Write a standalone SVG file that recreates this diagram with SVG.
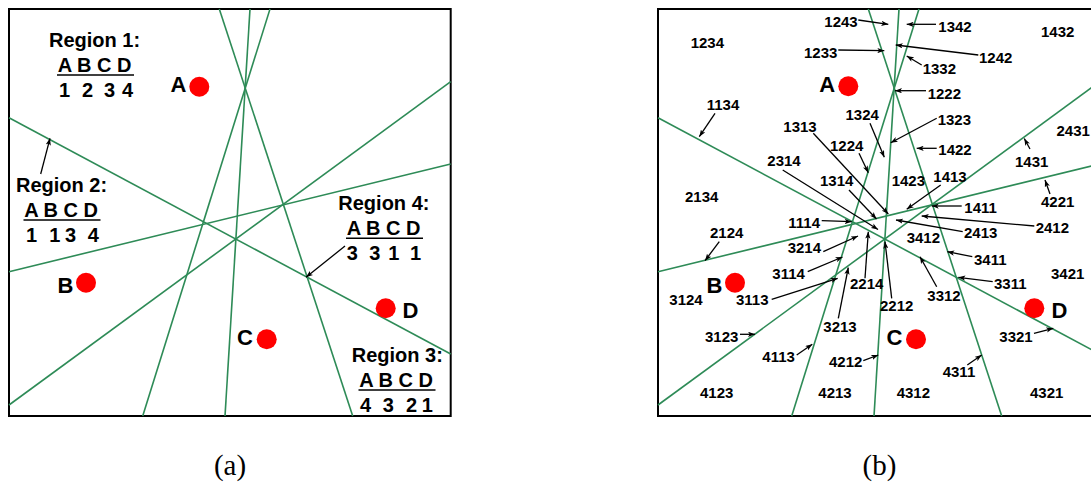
<svg xmlns="http://www.w3.org/2000/svg" xmlns:xlink="http://www.w3.org/1999/xlink" width="1091" height="484" viewBox="0 0 1091 484">
  <style>
    .frame { fill: none; stroke: #000; stroke-width: 2; }
    .bis { stroke: #2e8b57; stroke-width: 1.6; fill: none; }
    .ptr { stroke: #000; stroke-width: 1.3; fill: none; marker-end: url(#ah); }
    .ul { stroke: #000; stroke-width: 1.6; }
    .site { fill: #ff0000; }
    .big { font-family: "Liberation Sans", Arial, sans-serif; font-weight: bold; font-size: 22px; fill: #000; }
    .reg { font-family: "Liberation Sans", Arial, sans-serif; font-weight: bold; font-size: 20px; fill: #000; }
    .lab { font-family: "Liberation Sans", Arial, sans-serif; font-weight: bold; font-size: 15px; fill: #000; }
    .cap { font-family: "Liberation Serif", "Times New Roman", serif; font-size: 29px; fill: #000; }
  </style>
  <defs>
    <marker id="ah" viewBox="0 0 8 6" refX="8" refY="3" markerWidth="7" markerHeight="5.5" markerUnits="userSpaceOnUse" orient="auto">
      <path d="M0,0 L8,3 L0,6 L2,3 z" fill="#000"/>
    </marker>
    <!-- the six perpendicular bisectors of the four sites -->
    <g id="bisectors">
      <line class="bis" x1="219.3" y1="9" x2="352.7" y2="416"/>
      <line class="bis" x1="270" y1="9" x2="142.7" y2="416"/>
      <line class="bis" x1="250" y1="9" x2="225" y2="416"/>
      <line class="bis" x1="9" y1="117.7" x2="450.7" y2="354"/>
      <line class="bis" x1="9" y1="271.7" x2="450.7" y2="164"/>
      <line class="bis" x1="9" y1="405" x2="450.7" y2="81.7"/>
    </g>
  </defs>

  <rect width="1091" height="484" fill="#fff"/>

  <!-- panel (a) -->
  <g id="panel-a">
    <rect class="frame" x="9" y="9" width="441.7" height="407"/>
    <g id="connectors-a">
      <use xlink:href="#bisectors" href="#bisectors"/>
      <line class="ptr" x1="40.7" y1="174" x2="50" y2="138.3"/>
      <line class="ptr" x1="345" y1="246" x2="306" y2="277.3"/>
    </g>
    <g id="site-a-A">
      <circle class="site" cx="199.3" cy="86.7" r="10"/>
      <text class="big" x="170.5" y="92">A</text>
    </g>
    <g id="site-a-B">
      <circle class="site" cx="86" cy="282.7" r="10"/>
      <text class="big" x="57.5" y="293">B</text>
    </g>
    <g id="site-a-C">
      <circle class="site" cx="266.7" cy="339.3" r="10"/>
      <text class="big" x="237" y="345">C</text>
    </g>
    <g id="site-a-D">
      <circle class="site" cx="385.7" cy="308.3" r="10"/>
      <text class="big" x="402.5" y="318.3">D</text>
    </g>
    <g id="region-1">
      <text class="reg" x="49" y="46.7">Region 1:</text>
      <text class="reg" x="57.7" y="71.7">A B C D</text>
      <line class="ul" x1="57" y1="75" x2="134" y2="75"/>
      <text class="reg" x="59 70 82 95 104 117 122" y="96.7">1 2 3 4</text>
    </g>
    <g id="region-2">
      <text class="reg" x="16" y="191.7">Region 2:</text>
      <text class="reg" x="24.3" y="216.7">A B C D</text>
      <line class="ul" x1="23.5" y1="220" x2="100.5" y2="220"/>
      <text class="reg" x="26 40 49.3 60 65 80 87.7" y="241.7">1 1 3 4</text>
    </g>
    <g id="region-4">
      <text class="reg" x="338.3" y="210">Region 4:</text>
      <text class="reg" x="346.7" y="235">A B C D</text>
      <line class="ul" x1="346" y1="238.3" x2="423" y2="238.3"/>
      <text class="reg" x="346.7 360 369.3 382 388.3 400 410" y="260">3 3 1 1</text>
    </g>
    <g id="region-3">
      <text class="reg" x="351.7" y="361.7">Region 3:</text>
      <text class="reg" x="359.3" y="386.7">A B C D</text>
      <line class="ul" x1="358.5" y1="390" x2="435.5" y2="390"/>
      <text class="reg" x="360 374 382.7 396 406 418 421.7" y="411.7">4 3 2 1</text>
    </g>
    <text class="cap" x="230" y="475" text-anchor="middle">(a)</text>
  </g>

  <!-- panel (b) -->
  <g id="panel-b">
    <rect class="frame" x="658" y="9" width="441.7" height="407"/>
    <g id="connectors-b">
      <use xlink:href="#bisectors" href="#bisectors" transform="translate(649,0)"/>
      <line class="ptr" x1="858.3" y1="20" x2="888.3" y2="24.3"/>
      <line class="ptr" x1="936" y1="24.3" x2="906.7" y2="24.3"/>
      <line class="ptr" x1="838.3" y1="50" x2="884.3" y2="50.7"/>
      <line class="ptr" x1="978.3" y1="55" x2="895.7" y2="45"/>
      <line class="ptr" x1="921.7" y1="65" x2="906.7" y2="56"/>
      <line class="ptr" x1="926" y1="90.7" x2="895" y2="90.7"/>
      <line class="ptr" x1="715" y1="113.3" x2="699.3" y2="136.7"/>
      <line class="ptr" x1="870" y1="123.3" x2="884.3" y2="157.3"/>
      <line class="ptr" x1="936.7" y1="118.3" x2="890.7" y2="142.7"/>
      <line class="ptr" x1="813.3" y1="133.3" x2="888.3" y2="214"/>
      <line class="ptr" x1="859" y1="153.3" x2="868.3" y2="172.7"/>
      <line class="ptr" x1="936.7" y1="148.3" x2="916.7" y2="148.3"/>
      <line class="ptr" x1="1030" y1="149" x2="1024.3" y2="138.5"/>
      <line class="ptr" x1="782.7" y1="170" x2="878" y2="229.5"/>
      <line class="ptr" x1="940.7" y1="185" x2="906.7" y2="209.3"/>
      <line class="ptr" x1="849" y1="190" x2="876.5" y2="219"/>
      <line class="ptr" x1="1050" y1="194" x2="1045" y2="180"/>
      <line class="ptr" x1="961.7" y1="206" x2="931.7" y2="206"/>
      <line class="ptr" x1="821.7" y1="220.7" x2="851.7" y2="221.7"/>
      <line class="ptr" x1="1034.3" y1="226" x2="921.7" y2="216"/>
      <line class="ptr" x1="962.7" y1="231.7" x2="896" y2="220"/>
      <line class="ptr" x1="719.3" y1="241.7" x2="705" y2="260.7"/>
      <line class="ptr" x1="823.3" y1="251.7" x2="858" y2="236"/>
      <line class="ptr" x1="972.3" y1="256.7" x2="947.3" y2="251.7"/>
      <line class="ptr" x1="807.7" y1="271.7" x2="842.5" y2="257"/>
      <line class="ptr" x1="865" y1="278.3" x2="868.3" y2="231.7"/>
      <line class="ptr" x1="992.7" y1="281.7" x2="958.3" y2="277.3"/>
      <line class="ptr" x1="771.7" y1="299.3" x2="837.7" y2="278.3"/>
      <line class="ptr" x1="936.7" y1="286.7" x2="920" y2="256.7"/>
      <line class="ptr" x1="891.7" y1="298.3" x2="885" y2="241.7"/>
      <line class="ptr" x1="838.3" y1="318.3" x2="848.3" y2="267.5"/>
      <line class="ptr" x1="740" y1="334.3" x2="755" y2="334.3"/>
      <line class="ptr" x1="1034" y1="333.3" x2="1053.3" y2="328.3"/>
      <line class="ptr" x1="796.7" y1="355" x2="812.3" y2="344.3"/>
      <line class="ptr" x1="863.3" y1="360.7" x2="878.3" y2="355"/>
      <line class="ptr" x1="967.3" y1="365" x2="981.7" y2="355"/>
    </g>
    <g id="site-b-A">
      <circle class="site" cx="848.3" cy="86.3" r="10"/>
      <text class="big" x="819.3" y="92.3">A</text>
    </g>
    <g id="site-b-B">
      <circle class="site" cx="735" cy="282.7" r="10"/>
      <text class="big" x="706.5" y="293.3">B</text>
    </g>
    <g id="site-b-C">
      <circle class="site" cx="916" cy="339.3" r="10"/>
      <text class="big" x="886.5" y="345">C</text>
    </g>
    <g id="site-b-D">
      <circle class="site" cx="1034.3" cy="308.3" r="10"/>
      <text class="big" x="1051.5" y="318.3">D</text>
    </g>
    <g id="region-labels">
      <text class="lab" x="824.3" y="27.3">1243</text>
      <text class="lab" x="938.3" y="32.3">1342</text>
      <text class="lab" x="1041" y="37.3">1432</text>
      <text class="lab" x="690.7" y="47.7">1234</text>
      <text class="lab" x="804" y="58.3">1233</text>
      <text class="lab" x="979" y="63.3">1242</text>
      <text class="lab" x="922.7" y="74">1332</text>
      <text class="lab" x="927.7" y="99.3">1222</text>
      <text class="lab" x="706.7" y="110">1134</text>
      <text class="lab" x="845.5" y="120.3">1324</text>
      <text class="lab" x="937.7" y="125">1323</text>
      <text class="lab" x="783.3" y="131.7">1313</text>
      <text class="lab" x="1056.5" y="135.5">2431</text>
      <text class="lab" x="830" y="150.7">1224</text>
      <text class="lab" x="938.3" y="155">1422</text>
      <text class="lab" x="1015" y="166.7">1431</text>
      <text class="lab" x="767.3" y="166">2314</text>
      <text class="lab" x="933.3" y="181.7">1413</text>
      <text class="lab" x="891.7" y="186">1423</text>
      <text class="lab" x="820" y="186">1314</text>
      <text class="lab" x="685" y="201.7">2134</text>
      <text class="lab" x="1041" y="206.7">4221</text>
      <text class="lab" x="964.3" y="212.7">1411</text>
      <text class="lab" x="788.3" y="228.3">1114</text>
      <text class="lab" x="1035.7" y="232.7">2412</text>
      <text class="lab" x="964" y="238.3">2413</text>
      <text class="lab" x="710" y="238.3">2124</text>
      <text class="lab" x="906.7" y="242.7">3412</text>
      <text class="lab" x="787.7" y="253.3">3214</text>
      <text class="lab" x="974" y="264.5">3411</text>
      <text class="lab" x="772.3" y="279.3">3114</text>
      <text class="lab" x="1051" y="279.3">3421</text>
      <text class="lab" x="850" y="289">2214</text>
      <text class="lab" x="994" y="289.3">3311</text>
      <text class="lab" x="736" y="305">3113</text>
      <text class="lab" x="669.3" y="305">3124</text>
      <text class="lab" x="927.3" y="300.7">3312</text>
      <text class="lab" x="880" y="310.7">2212</text>
      <text class="lab" x="823.3" y="331.7">3213</text>
      <text class="lab" x="705" y="341.7">3123</text>
      <text class="lab" x="999.3" y="341.7">3321</text>
      <text class="lab" x="762.3" y="362.3">4113</text>
      <text class="lab" x="829" y="367.3">4212</text>
      <text class="lab" x="942.7" y="377.3">4311</text>
      <text class="lab" x="700" y="398.3">4123</text>
      <text class="lab" x="818.3" y="398.3">4213</text>
      <text class="lab" x="896.7" y="398.3">4312</text>
      <text class="lab" x="1030" y="398.3">4321</text>
    </g>
    <text class="cap" x="879.5" y="475" text-anchor="middle">(b)</text>
  </g>
</svg>
